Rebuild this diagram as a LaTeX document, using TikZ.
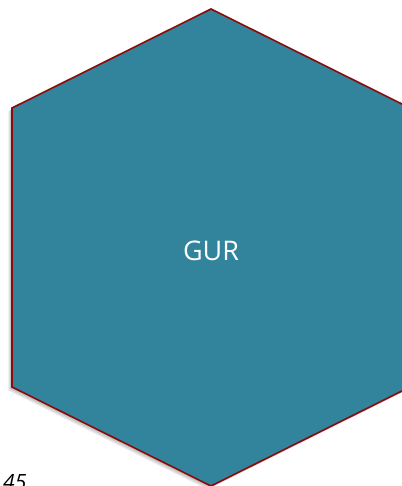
\documentclass[tikz,border=0pt]{standalone}
\usepackage{fontspec}
\setmainfont{Open Sans}
\definecolor{hexfill}{HTML}{31849B}
\definecolor{hexline}{HTML}{8B0A0A}
\begin{document}
\begin{tikzpicture}[x=1pt,y=-1pt,
  hexshape/.style={fill=hexfill,draw=hexline,line width=1.6pt,line join=miter},
  shadowshape/.style={fill=black,opacity=0.08},
  lbl/.style={text=white,font=\fontsize{27}{32}\selectfont,inner sep=0pt},
  cornerlbl/.style={font=\itshape\fontsize{21}{25}\selectfont,inner sep=0pt,anchor=north west}]
\useasboundingbox (0,0) rectangle (401,486);
\foreach \d in {1,2,3,4}{
  \fill[shadowshape,shift={(-\d*0.9,\d*0.9)}] (211,9) -- (12,108) -- (12,387) -- (211,486) -- (410,387) -- (410,108) -- cycle;
}
\draw[hexshape] (211,9) -- (12,108) -- (12,387) -- (211,486) -- (410,387) -- (410,108) -- cycle;
\node[lbl] (gur) at (211,251) {GUR};
\node[cornerlbl] (num) at (3,474) {45};
\end{tikzpicture}
\end{document}
